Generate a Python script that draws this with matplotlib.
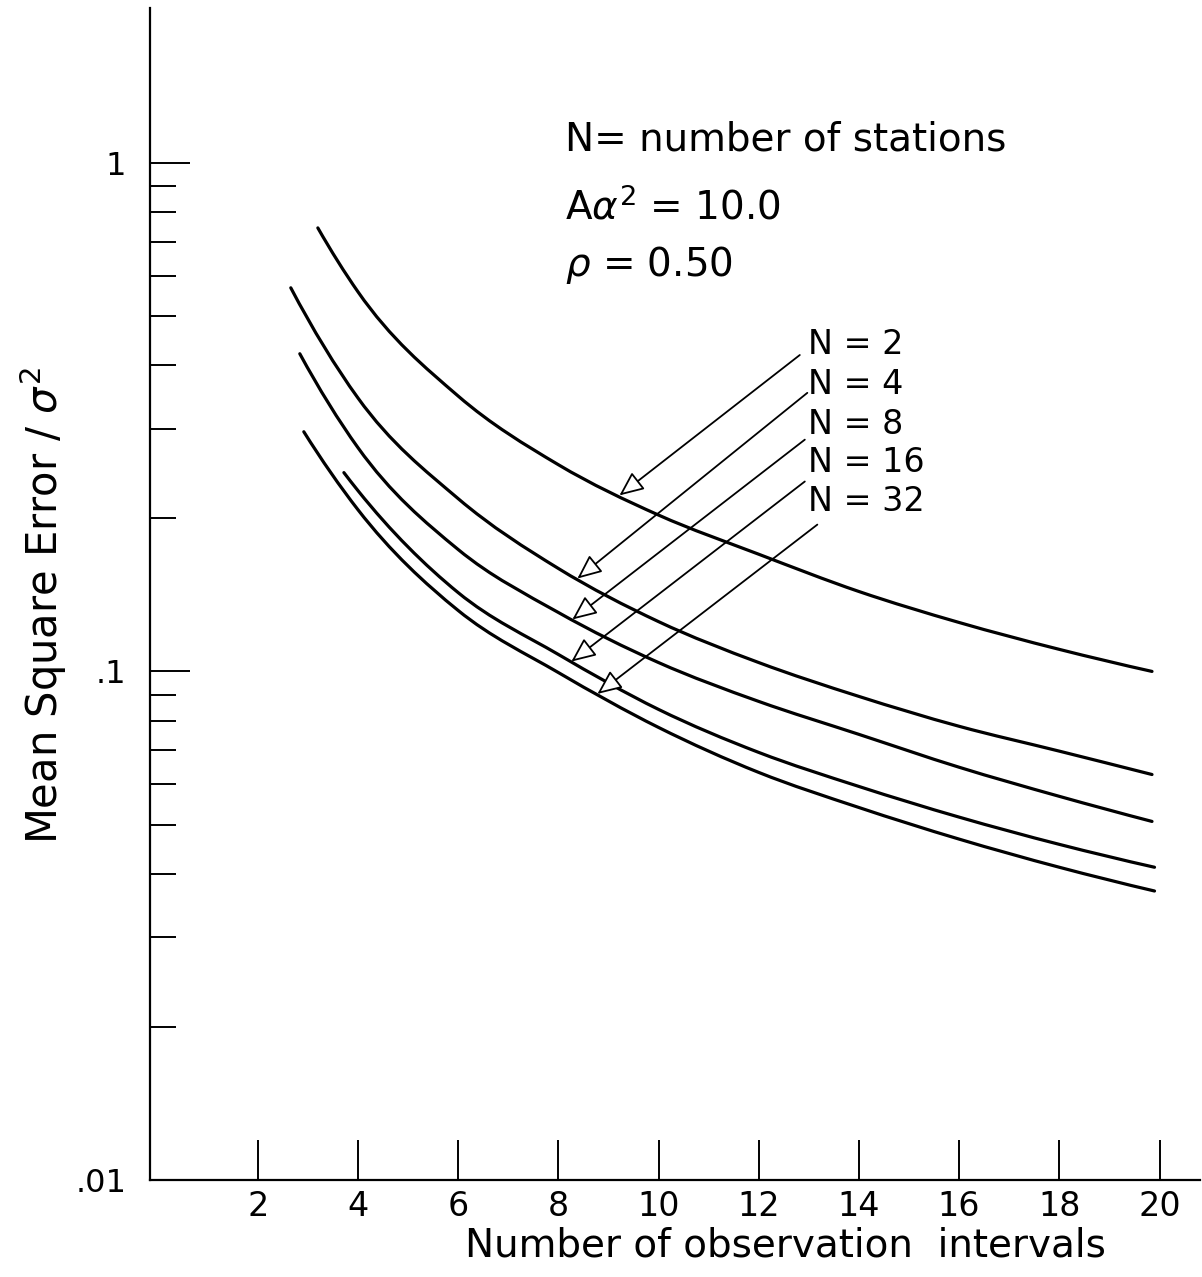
import numpy as np
import matplotlib.pyplot as plt
from matplotlib.path import Path
from matplotlib.patches import PathPatch
from matplotlib.ticker import FixedLocator, NullFormatter

# %% Data (mean square error / sigma^2 vs observation intervals)

x_n2 = [3.2, 4, 6, 8, 10, 12, 14, 16, 18, 19.85]
mse_n2 = [0.745, 0.558, 0.348, 0.255, 0.203, 0.170, 0.1436, 0.1248, 0.1105, 0.100]

x_n4 = [2.66, 4, 6, 8, 10, 12, 14, 16, 18, 19.85]
mse_n4 = [0.568, 0.345, 0.2187, 0.1594, 0.1253, 0.1041, 0.0893, 0.0780, 0.0697, 0.0627]

x_n8 = [2.84, 4, 6, 8, 10, 12, 14, 16, 18, 19.85]
mse_n8 = [0.4214, 0.2755, 0.1737, 0.1306, 0.1041, 0.0873, 0.0752, 0.0648, 0.0568, 0.0507]

x_n16 = [3.72, 4, 6, 8, 10, 12, 14, 16, 18, 19.9]
mse_n16 = [0.246, 0.2268, 0.1429, 0.1080, 0.0842, 0.0693, 0.0594, 0.0517, 0.0457, 0.0412]

x_n32 = [2.92, 4, 6, 8, 10, 12, 14, 16, 18, 19.9]
mse_n32 = [0.296, 0.208, 0.1318, 0.0995, 0.0776, 0.0633, 0.0540, 0.0468, 0.0412, 0.0370]

labels = ["N = 2", "N = 4", "N = 8", "N = 16", "N = 32"]
xs = [x_n2, x_n4, x_n8, x_n16, x_n32]
ys = [mse_n2, mse_n4, mse_n8, mse_n16, mse_n32]

# where each label arrow touches its curve (x), label/arrow-tail positions
arrow_x = [9.22, 8.38, 8.28, 8.26, 8.78]
label_y = [0.439, 0.366, 0.306, 0.2573, 0.2159]
tail_x = [12.82, 12.97, 12.92, 12.92, 13.17]
tail_y = [0.419, 0.353, 0.2856, 0.2363, 0.1944]


def smooth_path(x, y):
    # hand-drawn look: cubic bezier through the read points, built in log-y
    x = np.asarray(x, float)
    ly = np.log10(y)
    h = np.diff(x)
    d = np.diff(ly) / h
    m = np.empty_like(ly)
    m[1:-1] = (h[1:] * d[:-1] + h[:-1] * d[1:]) / (h[:-1] + h[1:])
    m[0] = ((2 * h[0] + h[1]) * d[0] - h[0] * d[1]) / (h[0] + h[1])
    m[-1] = ((2 * h[-1] + h[-2]) * d[-1] - h[-1] * d[-2]) / (h[-1] + h[-2])
    verts = [(x[0], 10 ** ly[0])]
    codes = [Path.MOVETO]
    for i in range(len(x) - 1):
        c1 = (x[i] + h[i] / 3, 10 ** (ly[i] + m[i] * h[i] / 3))
        c2 = (x[i + 1] - h[i] / 3, 10 ** (ly[i + 1] - m[i + 1] * h[i] / 3))
        verts += [c1, c2, (x[i + 1], 10 ** ly[i + 1])]
        codes += [Path.CURVE4] * 3
    return Path(verts, codes)


# %% Figure

fig = plt.figure(figsize=(12.02, 12.77), dpi=100)
ax = fig.add_axes([0.1248, 0.076, 0.8732, 0.9177])

ax.set_yscale("log")
ax.set_xlim(-0.15, 20.8)
ax.set_ylim(0.01, 2.016)

for x, y in zip(xs, ys):
    ax.add_patch(PathPatch(smooth_path(x, y), fill=False, ec="black",
                           lw=2.3, capstyle="round"))

for sp in ["top", "right"]:
    ax.spines[sp].set_visible(False)
for sp in ["left", "bottom"]:
    ax.spines[sp].set_linewidth(1.6)

ax.set_xticks(np.arange(2, 21, 2))
ax.set_xticklabels([str(v) for v in range(2, 21, 2)])
ax.tick_params(axis="x", direction="in", length=29, width=1.4, pad=7,
               labelsize=24)

ax.yaxis.set_major_locator(FixedLocator([0.01, 0.1, 1]))
ax.set_yticklabels([".01", ".1", "1"])
minor = [m * d for d in (0.01, 0.1) for m in range(2, 10)]
ax.yaxis.set_minor_locator(FixedLocator(minor))
ax.yaxis.set_minor_formatter(NullFormatter())
ax.tick_params(axis="y", which="major", direction="in", length=29, width=1.4,
               pad=17, labelsize=23)
ax.tick_params(axis="y", which="minor", direction="in", length=19, width=1.4)

ax.set_xlabel("Number of observation  intervals", fontsize=28)
ax.xaxis.set_label_coords(0.605, -0.040)
ax.set_ylabel(r"Mean Square Error / $\sigma^2$", fontsize=30)
ax.yaxis.set_label_coords(-0.077, 0.49)

# header text
ax.text(8.13, 1.11, "N= number of stations", fontsize=28, va="center")
ax.text(8.13, 0.816, r"A$\alpha^2$ = 10.0", fontsize=28, va="center")
ax.text(8.13, 0.630, r"$\rho$ = 0.50", fontsize=28, va="center")

# curve labels with arrows
for lab, x, y, ax_x, ly, tx, ty in zip(labels, xs, ys, arrow_x, label_y,
                                       tail_x, tail_y):
    target_y = 10 ** np.interp(ax_x, x, np.log10(y))
    ax.text(12.98, ly, lab, fontsize=24, va="center", ha="left")
    ax.annotate("", xy=(ax_x, target_y), xytext=(tx, ty),
                arrowprops=dict(arrowstyle="-|>,head_length=0.75,head_width=0.33",
                                fc="white", ec="black", lw=1.3,
                                shrinkA=0, shrinkB=0, mutation_scale=20))

fig.savefig("out.png", dpi=100)
